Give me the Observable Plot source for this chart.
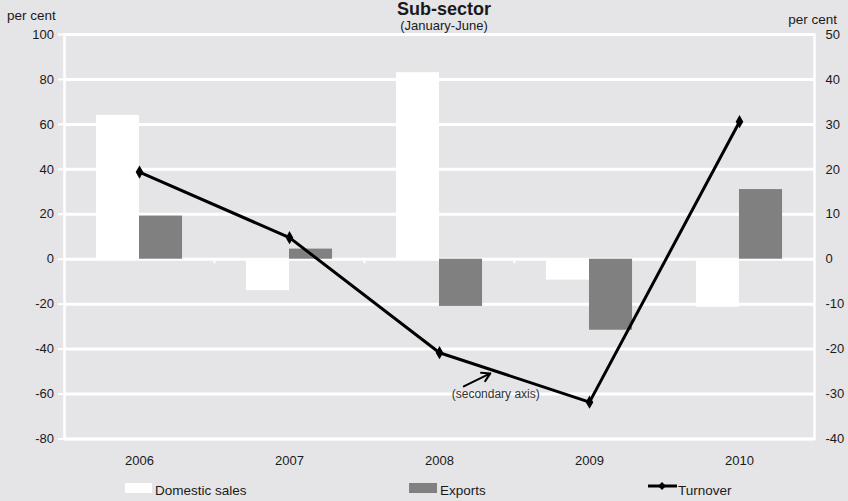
<!DOCTYPE html>
<html><head><meta charset="utf-8">
<script src="https://cdn.jsdelivr.net/npm/d3@7"></script>
<script src="https://cdn.jsdelivr.net/npm/@observablehq/plot@0.6"></script>
<style>
html,body{margin:0;padding:0;background:#e5e5e7;}
#wrap{position:relative;width:848px;height:501px;overflow:hidden;font-family:"Liberation Sans",Arial,Helvetica,sans-serif;color:#1a1a1a;}
.t{position:absolute;white-space:nowrap;line-height:1;}
.sw{position:absolute;}
</style></head><body>
<div id="wrap">
  <div id="chart" style="position:absolute;left:0;top:0"></div>
  <div class="t" style="left:0;width:888px;text-align:center;top:0px;font-size:18px;font-weight:bold">Sub-sector</div>
  <div class="t" style="left:0;width:888px;text-align:center;top:18.6px;font-size:13px">(January-June)</div>
  <div class="t" style="left:7px;top:9px;font-size:13.5px">per cent</div>
  <div class="t" style="right:11px;top:12.6px;font-size:13.5px">per cent</div>
  <div id="legend"></div>
</div>
<script>
// ---- data ----
const years = [2006, 2007, 2008, 2009, 2010];
const domesticSales = [64, -14, 83, -9.3, -21.4];
const exportsVals = [19.2, 4.5, -21, -31.6, 31];
const turnover = [19.4, 4.8, -20.8, -31.8, 30.6];   // secondary axis
const leftTicks = [-80, -60, -40, -20, 0, 20, 40, 60, 80, 100];
const seriesNames = ["Domestic sales", "Exports", "Turnover"];
const annotationText = "(secondary axis)";

// ---- build ----
const ratio = 2; // primary / secondary axis
const rows = years.map((y, i) => ({year: y, dom: domesticSales[i], exp: exportsVals[i], turn: turnover[i] * ratio}));
const w = 0.287; // bar width in years
const barGrey = "#808080";

const chart = Plot.plot({
  width: 848,
  height: 501,
  marginTop: 34,
  marginBottom: 62.5,
  marginLeft: 64,
  marginRight: 34,
  style: {fontFamily: "'Liberation Sans', Arial, sans-serif", fontSize: "13px", background: "transparent", color: "#1a1a1a", overflow: "visible"},
  x: {domain: [2005.5, 2010.5]},
  y: {domain: [-80, 100]},
  marks: [
    Plot.ruleY(leftTicks, {stroke: "white", strokeWidth: 3}),
    Plot.frame({stroke: "white", strokeWidth: 2.5}),
    Plot.rectY(rows, {x1: d => d.year - w, x2: d => d.year, y1: 0, y2: "dom", fill: "white"}),
    Plot.rectY(rows, {x1: d => d.year, x2: d => d.year + w, y1: 0, y2: "exp", fill: barGrey}),
    Plot.ruleX(years.slice(0, -1).map(y => y + 0.5), {x: d => d, y1: 0, y2: -2, stroke: "white", strokeWidth: 2}),
    Plot.axisY(leftTicks, {anchor: "left", tickSize: 6, tickPadding: 4.5, stroke: "white", strokeWidth: 2, tickFormat: d => String(d), label: null, fontSize: 13}),
    Plot.axisY(leftTicks, {anchor: "right", tickSize: 0, tickPadding: 11, tickFormat: d => String(d / ratio), label: null, fontSize: 13}),
    Plot.axisX(years, {anchor: "bottom", tickSize: 0, tickPadding: 17, tickFormat: d => String(d), label: null, fontSize: 13}),
    Plot.line(rows, {x: "year", y: "turn", stroke: "black", strokeWidth: 3}),
    Plot.dot(rows, {x: "year", y: "turn", symbol: "diamond", r: 4, fill: "black"}),
    Plot.arrow([{x1: 2008.162, y1: -56.6, x2: 2008.339, y2: -50.8}], {x1: "x1", y1: "y1", x2: "x2", y2: "y2", stroke: "black", strokeWidth: 2, headLength: 7}),
    Plot.text([annotationText], {x: () => 2008.375, y: () => -60, text: d => d, fontSize: 12, fill: "#333"})
  ]
});
document.getElementById("chart").appendChild(chart);

// ---- legend ----
const leg = document.getElementById("legend");
leg.innerHTML = `
  <div class="sw" style="left:125px;top:483px;width:27px;height:10px;background:white"></div>
  <div class="t" style="left:155px;top:483.6px;font-size:13.5px">${seriesNames[0]}</div>
  <div class="sw" style="left:409px;top:483px;width:28px;height:10px;background:${barGrey}"></div>
  <div class="t" style="left:440px;top:483.6px;font-size:13.5px">${seriesNames[1]}</div>
  <svg class="sw" style="left:647px;top:480px" width="31" height="12">
    <line x1="1" x2="30" y1="6" y2="6" stroke="black" stroke-width="3"/>
    <path d="M15,2 L19,6 L15,10 L11,6 Z" fill="black"/>
  </svg>
  <div class="t" style="left:678px;top:483.6px;font-size:13.5px">${seriesNames[2]}</div>`;
</script>
</body></html>
